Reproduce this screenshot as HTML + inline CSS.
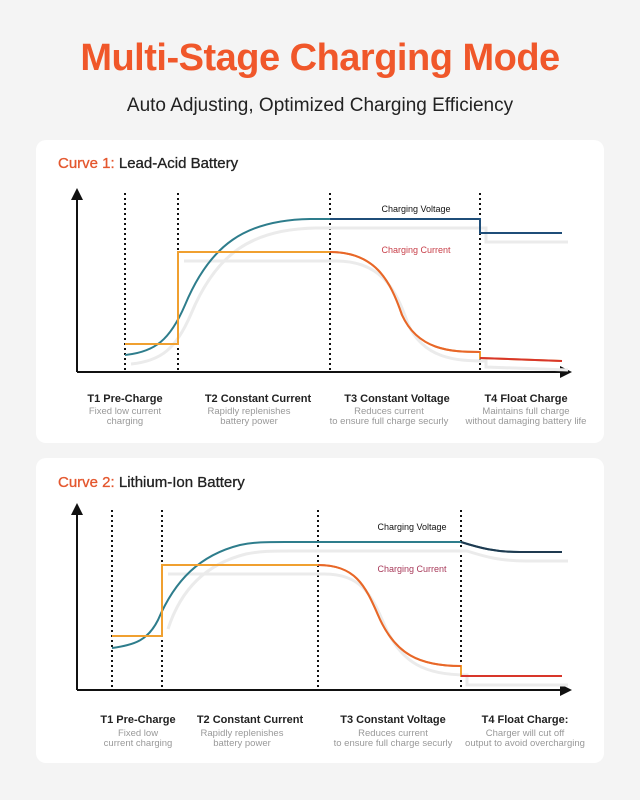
<!DOCTYPE html>
<html><head><meta charset="utf-8"><style>
body{margin:0;width:640px;height:795px;background:#f4f4f4;font-family:"Liberation Sans",sans-serif;overflow:hidden}
</style></head><body>
<svg width="640" height="795" xmlns="http://www.w3.org/2000/svg" font-family="Liberation Sans, sans-serif">
<defs><marker id="ar" markerWidth="6" markerHeight="6" refX="4" refY="3" orient="auto"><path d="M0,0 L6,3 L0,6 Z" fill="#111"/></marker></defs>
<text x="320" y="70" text-anchor="middle" font-size="38" font-weight="bold" fill="#f0572a" letter-spacing="-0.5">Multi-Stage Charging Mode</text>
<text x="320" y="111" text-anchor="middle" font-size="19" fill="#222">Auto Adjusting, Optimized Charging Efficiency</text>
<rect x="36" y="140" width="568" height="303" rx="10" fill="#fff"/>
<rect x="36" y="458" width="568" height="305" rx="10" fill="#fff"/>

<!-- Chart 1 -->
<text x="58" y="168" font-size="15" stroke-width="0.3" stroke="currentColor"><tspan fill="#e4572e" stroke="#e4572e">Curve 1:</tspan><tspan fill="#222" stroke="#222"> Lead-Acid Battery</tspan></text>
<line x1="77" y1="372" x2="77" y2="192" stroke="#111" stroke-width="2" marker-end="url(#ar)"/>
<line x1="77" y1="372" x2="568" y2="372" stroke="#111" stroke-width="2" marker-end="url(#ar)"/>
<g stroke="#111" stroke-width="2" stroke-dasharray="2,3">
<line x1="125" y1="193" x2="125" y2="372"/><line x1="178" y1="193" x2="178" y2="372"/>
<line x1="330" y1="193" x2="330" y2="372"/><line x1="480" y1="193" x2="480" y2="372"/></g>
<g fill="none" stroke="#ebebeb" stroke-width="3" transform="translate(6,9)">
<path d="M125,355 C155,352 170,340 185,305 C210,245 245,220 310,219 L480,219 L480,233 L562,233"/>
<path d="M178,252 L330,252 C375,252 390,280 402,315 C418,350 450,352 480,352 L480,358 L562,361"/>
</g>
<path d="M125,355 C155,352 170,340 185,305 C210,245 245,220 310,219 L480,219 L480,233 L562,233" fill="none" stroke="#2e7d8c" stroke-width="2"/>
<path d="M330,219 L480,219 L480,233 L562,233" fill="none" stroke="#1f4e79" stroke-width="2"/>
<path d="M125,344 L178,344 L178,252 L330,252 C375,252 390,280 402,315 C418,350 450,352 480,352 L480,358 L562,361" fill="none" stroke="#f0a030" stroke-width="2"/>
<path d="M330,252 C375,252 390,280 402,315 C418,350 450,352 480,352" fill="none" stroke="#e8662a" stroke-width="2"/>
<path d="M480,358 L562,361" fill="none" stroke="#d8362a" stroke-width="2"/>
<text x="416" y="212" text-anchor="middle" font-size="9" fill="#111">Charging Voltage</text>
<text x="416" y="253" text-anchor="middle" font-size="9" fill="#c8404a">Charging Current</text>
<g font-size="11" font-weight="bold" fill="#222" text-anchor="middle">
<text x="125" y="402">T1 Pre-Charge</text><text x="258" y="402">T2 Constant Current</text>
<text x="397" y="402">T3 Constant Voltage</text><text x="526" y="402">T4 Float Charge</text></g>
<g font-size="9.5" fill="#999" text-anchor="middle">
<text x="125" y="414">Fixed low current</text><text x="125" y="424">charging</text>
<text x="249" y="414">Rapidly replenishes</text><text x="249" y="424">battery power</text>
<text x="389" y="414">Reduces current</text><text x="389" y="424">to ensure full charge securly</text>
<text x="526" y="414">Maintains full charge</text><text x="526" y="424">without damaging battery life</text></g>

<!-- Chart 2 -->
<text x="58" y="487" font-size="15"><tspan fill="#e4572e" stroke="#e4572e" stroke-width="0.3">Curve 2:</tspan><tspan fill="#222" stroke="#222" stroke-width="0.3"> Lithium-Ion Battery</tspan></text>
<line x1="77" y1="690" x2="77" y2="507" stroke="#111" stroke-width="2" marker-end="url(#ar)"/>
<line x1="77" y1="690" x2="568" y2="690" stroke="#111" stroke-width="2" marker-end="url(#ar)"/>
<g stroke="#111" stroke-width="2" stroke-dasharray="2,3">
<line x1="112" y1="510" x2="112" y2="690"/><line x1="162" y1="510" x2="162" y2="690"/>
<line x1="318" y1="510" x2="318" y2="690"/><line x1="461" y1="510" x2="461" y2="690"/></g>
<g fill="none" stroke="#ebebeb" stroke-width="3" transform="translate(6,9)">
<path d="M162,620 C175,580 200,555 240,545 C255,542 265,542 285,542 L461,542 C480,548 495,552 520,552 L562,552"/>
<path d="M162,565 L318,565 C355,565 365,585 378,615 C395,655 420,666 461,666 L461,676 L562,676"/>
</g>
<path d="M112,648 C135,645 148,640 158,620 C175,580 200,555 240,545 C255,542 265,542 285,542 L461,542 C480,548 495,552 520,552 L562,552" fill="none" stroke="#2e7d8c" stroke-width="2"/>
<path d="M461,542 C480,548 495,552 520,552 L562,552" fill="none" stroke="#1f3a50" stroke-width="2"/>
<path d="M112,636 L162,636 L162,565 L318,565 C355,565 365,585 378,615 C395,655 420,666 461,666 L461,676 L562,676" fill="none" stroke="#f0a030" stroke-width="2"/>
<path d="M318,565 C355,565 365,585 378,615 C395,655 420,666 461,666" fill="none" stroke="#e8662a" stroke-width="2"/>
<path d="M461,676 L562,676" fill="none" stroke="#d8362a" stroke-width="2"/>
<text x="412" y="530" text-anchor="middle" font-size="9" fill="#111">Charging Voltage</text>
<text x="412" y="572" text-anchor="middle" font-size="9" fill="#a83a5a">Charging Current</text>
<g font-size="11" font-weight="bold" fill="#222" text-anchor="middle">
<text x="138" y="723">T1 Pre-Charge</text><text x="250" y="723">T2 Constant Current</text>
<text x="393" y="723">T3 Constant Voltage</text><text x="525" y="723">T4 Float Charge:</text></g>
<g font-size="9.5" fill="#999" text-anchor="middle">
<text x="138" y="736">Fixed low</text><text x="138" y="746">current charging</text>
<text x="242" y="736">Rapidly replenishes</text><text x="242" y="746">battery power</text>
<text x="393" y="736">Reduces current</text><text x="393" y="746">to ensure full charge securly</text>
<text x="525" y="736">Charger will cut off</text><text x="525" y="746">output to avoid overcharging</text></g>
</svg>
</body></html>
